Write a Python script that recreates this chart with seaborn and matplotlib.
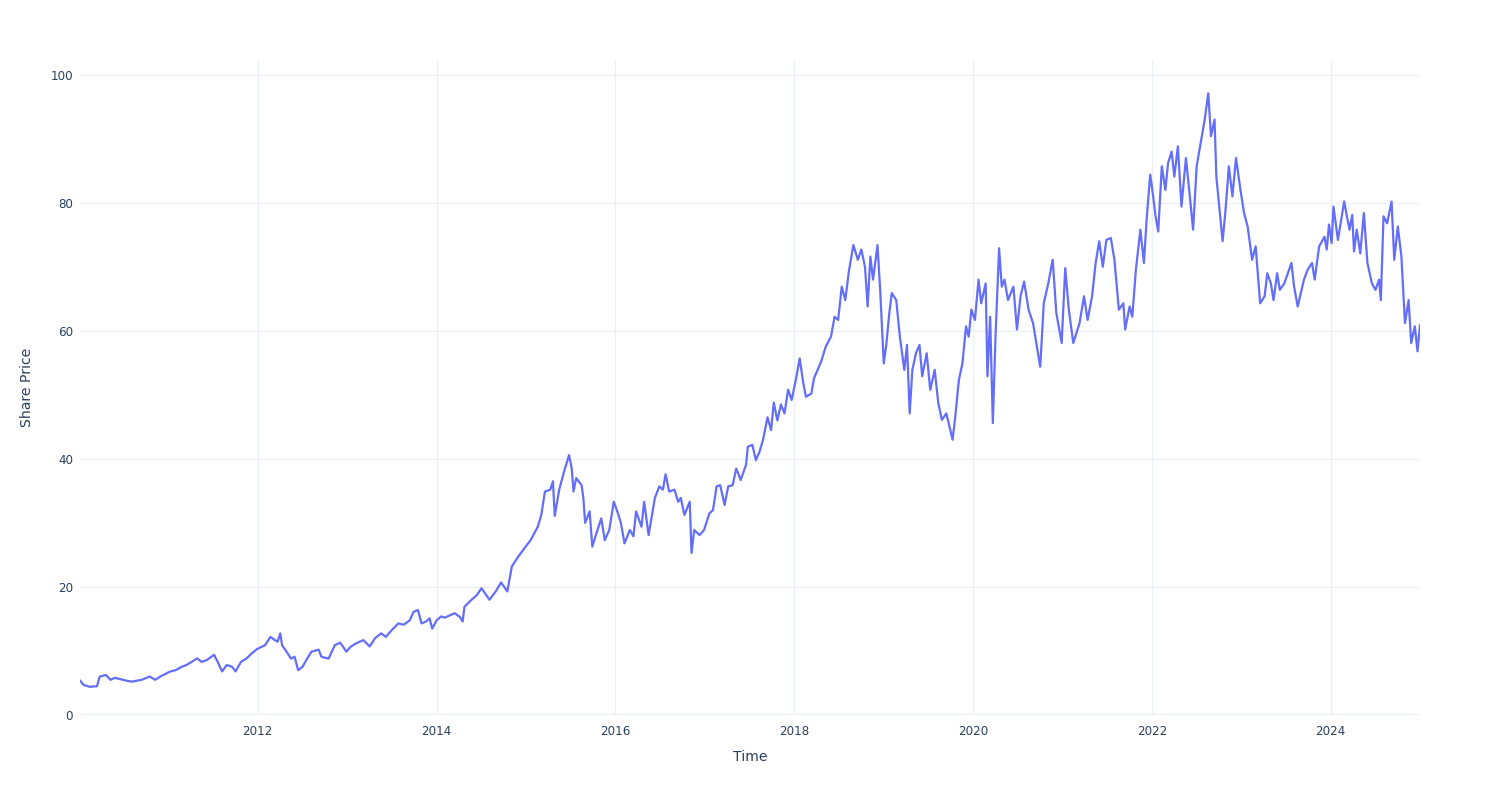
import numpy as np
import pandas as pd
import matplotlib
matplotlib.use("Agg")
import matplotlib.pyplot as plt
import matplotlib.dates as mdates
import seaborn as sns

# ---- data (decimal year, share price) ----
years = [
    2010.01, 2010.05, 2010.12, 2010.2, 2010.23, 2010.3, 2010.35, 2010.4, 2010.46, 2010.53,
    2010.59, 2010.64, 2010.7, 2010.79, 2010.85, 2010.92, 2011.02, 2011.08, 2011.15, 2011.2,
    2011.26, 2011.32, 2011.37, 2011.43, 2011.51, 2011.55, 2011.6, 2011.65, 2011.71, 2011.75,
    2011.81, 2011.87, 2011.93, 2011.99, 2012.08, 2012.14, 2012.19, 2012.22, 2012.25, 2012.27,
    2012.32, 2012.37, 2012.41, 2012.45, 2012.5, 2012.55, 2012.6, 2012.68, 2012.71, 2012.79,
    2012.86, 2012.92, 2012.99, 2013.04, 2013.1, 2013.18, 2013.25, 2013.31, 2013.38, 2013.43,
    2013.5, 2013.57, 2013.63, 2013.7, 2013.74, 2013.79, 2013.83, 2013.88, 2013.92, 2013.95,
    2014.0, 2014.05, 2014.09, 2014.2, 2014.26, 2014.29, 2014.31, 2014.39, 2014.45, 2014.5,
    2014.54, 2014.59, 2014.66, 2014.72, 2014.79, 2014.84, 2014.91, 2015.0, 2015.05, 2015.13,
    2015.17, 2015.21, 2015.27, 2015.3, 2015.32, 2015.37, 2015.42, 2015.48, 2015.51, 2015.53,
    2015.56, 2015.62, 2015.64, 2015.66, 2015.71, 2015.74, 2015.78, 2015.84, 2015.88, 2015.93,
    2015.98, 2016.02, 2016.06, 2016.1, 2016.16, 2016.2, 2016.23, 2016.29, 2016.32, 2016.37,
    2016.44, 2016.49, 2016.53, 2016.56, 2016.6, 2016.66, 2016.7, 2016.73, 2016.77, 2016.81,
    2016.83, 2016.85, 2016.88, 2016.94, 2016.99, 2017.05, 2017.09, 2017.13, 2017.17, 2017.22,
    2017.26, 2017.31, 2017.35, 2017.4, 2017.46, 2017.48, 2017.53, 2017.57, 2017.61, 2017.65,
    2017.7, 2017.74, 2017.77, 2017.81, 2017.85, 2017.89, 2017.93, 2017.97, 2018.02, 2018.06,
    2018.1, 2018.13, 2018.19, 2018.22, 2018.26, 2018.3, 2018.35, 2018.41, 2018.45, 2018.49,
    2018.53, 2018.57, 2018.61, 2018.66, 2018.71, 2018.75, 2018.79, 2018.82, 2018.85, 2018.88,
    2018.93, 2018.96, 2019.0, 2019.03, 2019.06, 2019.09, 2019.14, 2019.18, 2019.23, 2019.26,
    2019.29, 2019.32, 2019.36, 2019.4, 2019.43, 2019.48, 2019.52, 2019.57, 2019.61, 2019.65,
    2019.7, 2019.77, 2019.8, 2019.84, 2019.88, 2019.92, 2019.95, 2019.98, 2020.02, 2020.06,
    2020.09, 2020.14, 2020.16, 2020.19, 2020.22, 2020.25, 2020.29, 2020.32, 2020.35, 2020.39,
    2020.45, 2020.49, 2020.53, 2020.57, 2020.62, 2020.67, 2020.75, 2020.79, 2020.84, 2020.89,
    2020.93, 2020.99, 2021.03, 2021.07, 2021.12, 2021.19, 2021.24, 2021.28, 2021.33, 2021.37,
    2021.41, 2021.45, 2021.49, 2021.54, 2021.58, 2021.63, 2021.68, 2021.7, 2021.75, 2021.78,
    2021.82, 2021.87, 2021.91, 2021.94, 2021.98, 2022.0, 2022.04, 2022.07, 2022.11, 2022.15,
    2022.18, 2022.22, 2022.25, 2022.29, 2022.33, 2022.38, 2022.42, 2022.46, 2022.5, 2022.55,
    2022.59, 2022.63, 2022.66, 2022.7, 2022.72, 2022.76, 2022.79, 2022.82, 2022.86, 2022.9,
    2022.94, 2022.99, 2023.03, 2023.07, 2023.12, 2023.16, 2023.21, 2023.26, 2023.29, 2023.33,
    2023.36, 2023.4, 2023.43, 2023.48, 2023.56, 2023.59, 2023.63, 2023.7, 2023.74, 2023.79,
    2023.82, 2023.87, 2023.93, 2023.955, 2023.98, 2024.01, 2024.03, 2024.08, 2024.11, 2024.15,
    2024.18, 2024.21, 2024.24, 2024.26, 2024.29, 2024.33, 2024.37, 2024.41, 2024.46, 2024.5,
    2024.54, 2024.56, 2024.59, 2024.63, 2024.68, 2024.71, 2024.75, 2024.79, 2024.83, 2024.87,
    2024.9, 2024.94, 2024.97, 2024.998,
]

prices = [
    5.4, 4.7, 4.4, 4.5, 6.0, 6.25, 5.5, 5.8, 5.6, 5.36,
    5.2, 5.35, 5.5, 6.0, 5.5, 6.1, 6.8, 7.0, 7.55, 7.8,
    8.3, 8.85, 8.3, 8.6, 9.4, 8.3, 6.8, 7.8, 7.55, 6.8,
    8.3, 8.8, 9.6, 10.3, 10.9, 12.2, 11.7, 11.45, 12.75, 10.9,
    9.9, 8.8, 9.1, 7.0, 7.55, 8.8, 9.9, 10.2, 9.1, 8.8,
    10.9, 11.3, 9.9, 10.7, 11.2, 11.7, 10.7, 12.0, 12.75, 12.2,
    13.3, 14.3, 14.1, 14.8, 16.1, 16.4, 14.3, 14.6, 15.1, 13.5,
    14.8, 15.4, 15.2, 15.9, 15.3, 14.6, 16.9, 18.0, 18.75, 19.8,
    19.0, 18.0, 19.3, 20.7, 19.3, 23.2, 24.7, 26.4, 27.3, 29.4,
    31.25, 34.9, 35.2, 36.5, 31.1, 35.2, 37.8, 40.6, 38.5, 34.9,
    37.0, 35.9, 33.9, 30.0, 31.8, 26.3, 28.1, 30.7, 27.3, 28.9,
    33.3, 31.8, 30.0, 26.8, 28.9, 27.9, 31.8, 29.4, 33.3, 28.1,
    33.9, 35.7, 35.2, 37.6, 34.9, 35.2, 33.3, 33.9, 31.25, 32.6,
    33.3, 25.3, 28.9, 28.1, 28.9, 31.5, 32.0, 35.7, 35.9, 32.8,
    35.7, 35.9, 38.5, 36.7, 39.1, 41.9, 42.2, 39.8, 41.1, 43.0,
    46.5, 44.5, 48.8, 46.0, 48.5, 47.1, 50.8, 49.2, 52.6, 55.7,
    51.8, 49.7, 50.2, 52.6, 53.9, 55.2, 57.5, 59.1, 62.2, 61.7,
    66.9, 64.8, 69.3, 73.4, 71.1, 72.7, 70.0, 63.8, 71.6, 68.0,
    73.4, 66.4, 54.9, 58.0, 62.5, 65.9, 64.8, 59.1, 53.9, 57.8,
    47.1, 53.9, 56.5, 57.8, 52.9, 56.5, 50.8, 53.9, 48.7, 46.1,
    47.1, 43.0, 46.6, 52.3, 54.9, 60.7, 59.1, 63.3, 61.7, 68.0,
    64.3, 67.4, 52.9, 62.2, 45.6, 59.1, 72.9, 66.9, 68.0, 64.8,
    66.9, 60.2, 65.4, 67.7, 63.3, 61.2, 54.4, 64.3, 67.4, 71.1,
    62.8, 58.1, 69.8, 63.3, 58.1, 61.2, 65.4, 61.7, 65.4, 70.6,
    74.0, 70.0, 74.2, 74.5, 71.1, 63.3, 64.3, 60.2, 63.8, 62.2,
    69.5, 75.8, 70.6, 77.3, 84.4, 82.5, 77.9, 75.5, 85.7, 82.0,
    86.2, 88.0, 84.1, 88.8, 79.4, 87.0, 81.5, 75.8, 85.7, 89.8,
    93.0, 97.1, 90.4, 93.0, 84.1, 78.4, 74.0, 78.4, 85.7, 81.0,
    87.0, 82.0, 78.4, 76.3, 71.1, 73.2, 64.3, 65.4, 69.0, 67.4,
    64.8, 69.0, 66.4, 67.4, 70.6, 66.9, 63.8, 68.0, 69.5, 70.6,
    68.0, 73.2, 74.7, 72.7, 76.6, 73.7, 79.4, 74.2, 76.8, 80.2,
    77.9, 75.8, 78.1, 72.4, 75.8, 72.1, 78.4, 70.6, 67.4, 66.4,
    68.0, 64.8, 77.9, 76.8, 80.2, 71.1, 76.3, 71.6, 61.2, 64.8,
    58.1, 60.7, 56.8, 60.9,
]

x_title = "Time"
y_title = "Share Price"
y_ticks = [0, 20, 40, 60, 80, 100]

# ---- build frame ----
yrs = np.array(years, dtype=float)
dates = pd.Timestamp("2010-01-01") + pd.to_timedelta((yrs - 2010.0) * 365.25, unit="D")
df = pd.DataFrame({"Time": dates, "Share Price": prices})

# ---- style ----
sns.set_style("white")
plt.rcParams["font.family"] = ["DejaVu Sans"]
text_color = "#2a3f5f"
grid_color = "#EBF0F8"

fig = plt.figure(figsize=(15, 8), dpi=100)
ax = fig.add_axes([80 / 1500, 85 / 800, 1340 / 1500, 655 / 800])

sns.lineplot(data=df, x="Time", y="Share Price", ax=ax, color="#636efa",
             linewidth=1.6, zorder=3)

ax.set_xlim(df["Time"].min(), df["Time"].max())
ax.set_ylim(0, 102.3)
ax.set_yticks(y_ticks)
ax.xaxis.set_major_locator(mdates.YearLocator(2))
ax.xaxis.set_major_formatter(mdates.DateFormatter("%Y"))

ax.grid(True, color=grid_color, linewidth=1.0, zorder=0)
ax.axhline(0, color=grid_color, linewidth=2.0, zorder=1)
for s in ax.spines.values():
    s.set_visible(False)

ax.tick_params(axis="both", length=0, labelsize=8.6, labelcolor=text_color)
ax.tick_params(axis="y", pad=5)
ax.tick_params(axis="x", pad=7)

ax.set_xlabel(x_title, fontsize=10.1, color=text_color, labelpad=9)
ax.set_ylabel(y_title, fontsize=10.1, color=text_color, labelpad=12)

fig.savefig("out.png", dpi=100, facecolor="white")
